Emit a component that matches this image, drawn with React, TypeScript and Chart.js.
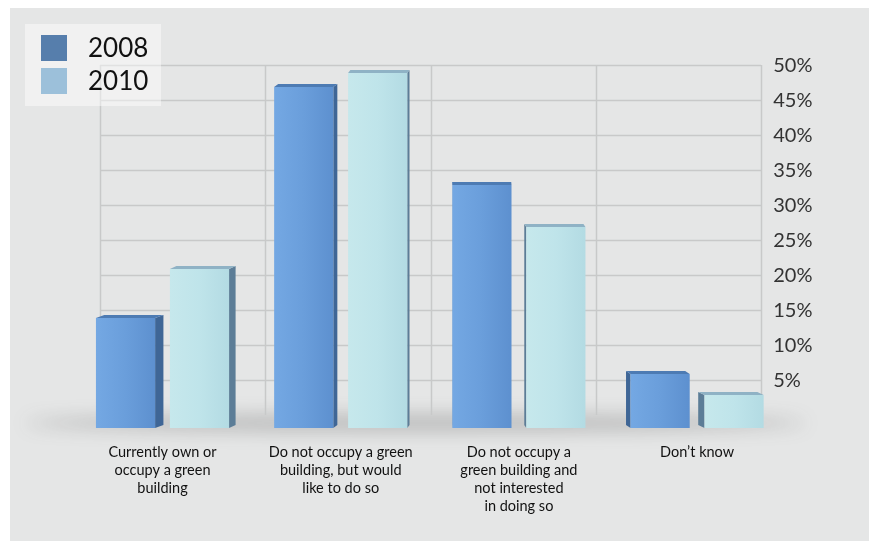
import { useEffect, useRef } from "react";
import { Chart, registerables } from "chart.js";

Chart.register(...registerables);

// Survey answers (percent of respondents)
const categories: string[][] = [
  ["Currently own or", "occupy a green", "building"],
  ["Do not occupy a green", "building, but would", "like to do so"],
  ["Do not occupy a", "green building and", "not interested", "in doing so"],
  ["Don\u2019t know"],
];
const seriesNames = ["2008", "2010"];
const values2008 = [14, 47, 33, 6];
const values2010 = [21, 49, 27, 3];
const yTickStep = 5;
const yMax = 50;

const FONT = "Lato, 'Open Sans', sans-serif";
const BG = "#e5e6e6";
const WALL_LINE = "#c8c9c9";

type Palette = { light: string; mid: string; dark: string; side: string; top: string; swatch: string };
const palettes: Palette[] = [
  { light: "#74a8e3", mid: "#6a9edb", dark: "#5d90cf", side: "#3f6696", top: "#4d7bb3", swatch: "#567eac" },
  { light: "#c6e8ec", mid: "#bfe4ea", dark: "#b3dbe3", side: "#5c7d97", top: "#8fb2c5", swatch: "#9cc0da" },
];

// back wall: grid drawn between the wall's own x positions (hidden "xg" axis)
const backWall = {
  id: "backWall",
  beforeDraw(chart: any) {
    const { ctx, width, height } = chart;
    ctx.save();
    ctx.fillStyle = BG;
    ctx.fillRect(0, 0, width, height);
    ctx.restore();
  },
  beforeDatasetsDraw(chart: any) {
    const { ctx } = chart;
    const xg = chart.scales.xg;
    const y = chart.scales.y;
    const left = xg.getPixelForValue(0);
    const right = xg.getPixelForValue(categories.length);
    const top = y.getPixelForValue(yMax);
    const bottom = y.getPixelForValue(0);

    // soft floor shadow under the bars
    ctx.save();
    ctx.filter = "blur(9px)";
    ctx.fillStyle = "rgba(60,60,60,0.27)";
    ctx.beginPath();
    ctx.ellipse((left + right) / 2 - 15, bottom + 8, (right - left) / 2 + 60, 8, 0, 0, Math.PI * 2);
    ctx.fill();
    ctx.restore();

    ctx.save();
    ctx.strokeStyle = WALL_LINE;
    ctx.lineWidth = 1.5;
    for (let v = yTickStep; v <= yMax; v += yTickStep) {
      const py = Math.round(y.getPixelForValue(v)) + 0.5;
      ctx.beginPath();
      ctx.moveTo(left, py);
      ctx.lineTo(right, py);
      ctx.stroke();
    }
    for (let i = 0; i <= categories.length; i++) {
      const px = Math.round(xg.getPixelForValue(i)) + 0.5;
      ctx.beginPath();
      ctx.moveTo(px, top);
      ctx.lineTo(px, bottom);
      ctx.stroke();
    }
    ctx.restore();

    // percentage labels beside the wall
    ctx.save();
    ctx.fillStyle = "#333";
    ctx.font = `20px ${FONT}`;
    ctx.textAlign = "left";
    ctx.textBaseline = "middle";
    y.ticks.forEach((t: any) => {
      if (t.value === 0) return;
      ctx.fillText(`${t.value}%`, y.left - 13, y.getPixelForValue(t.value) + 1);
    });
    ctx.restore();
  },
  afterDatasetsDraw(chart: any) {
    const { ctx } = chart;
    const xg = chart.scales.xg;
    const vanishX = xg.getPixelForValue(2.25);
    const rise = 3;
    const drop = 13;
    chart.data.datasets.forEach((_ds: any, di: number) => {
      const pal = palettes[di];
      chart.getDatasetMeta(di).data.forEach((el: any) => {
        const w = el.width;
        const x0 = el.x - w / 2;
        const x1 = el.x + w / 2;
        const top = el.y + 1;
        const bottom = el.base + drop;
        const depth = (vanishX - el.x) * 0.024;
        ctx.save();
        // side face
        const sx = depth >= 0 ? x1 : x0;
        ctx.fillStyle = pal.side;
        ctx.beginPath();
        ctx.moveTo(sx, top);
        ctx.lineTo(sx + depth, top - rise);
        ctx.lineTo(sx + depth, bottom - rise);
        ctx.lineTo(sx, bottom);
        ctx.closePath();
        ctx.fill();
        // top face
        ctx.fillStyle = pal.top;
        ctx.beginPath();
        ctx.moveTo(x0, top);
        ctx.lineTo(x1, top);
        ctx.lineTo(x1 + depth, top - rise);
        ctx.lineTo(x0 + depth, top - rise);
        ctx.closePath();
        ctx.fill();
        // front face
        const g = ctx.createLinearGradient(x0, 0, x1, 0);
        g.addColorStop(0, pal.light);
        g.addColorStop(0.5, pal.mid);
        g.addColorStop(1, pal.dark);
        ctx.fillStyle = g;
        ctx.fillRect(x0, top, w, bottom - top);
        ctx.restore();
      });
    });
  },
  afterDraw(chart: any) {
    const { ctx } = chart;
    ctx.save();
    ctx.fillStyle = "rgba(255,255,255,0.45)";
    ctx.fillRect(15, 16, 136, 82);
    chart.data.datasets.forEach((ds: any, i: number) => {
      const cy = 40 + i * 33;
      ctx.fillStyle = palettes[i].swatch;
      ctx.fillRect(31, cy - 13, 26, 26);
      ctx.fillStyle = "#111";
      ctx.font = `26px ${FONT}`;
      ctx.textBaseline = "middle";
      ctx.textAlign = "left";
      ctx.fillText(ds.label, 78, cy + 1);
    });
    ctx.restore();
  },
};

export default function App() {
  const ref = useRef<HTMLCanvasElement | null>(null);
  useEffect(() => {
    if (!ref.current) return;
    const chart = new Chart(ref.current, {
      type: "bar",
      data: {
        labels: categories,
        datasets: [
          { label: seriesNames[0], data: values2008, backgroundColor: "rgba(0,0,0,0)", borderWidth: 0 },
          { label: seriesNames[1], data: values2010, backgroundColor: "rgba(0,0,0,0)", borderWidth: 0 },
        ],
      },
      options: {
        responsive: false,
        animation: false,
        categoryPercentage: 0.83,
        barPercentage: 0.8,
        layout: { padding: { left: 63.4, top: 57, right: 0, bottom: 0 } },
        plugins: { legend: { display: false }, tooltip: { enabled: false } },
        scales: {
          x: {
            type: "category",
            offset: true,
            grid: { display: false, drawTicks: false },
            border: { display: false },
            ticks: {
              autoSkip: false,
              maxRotation: 0,
              padding: 28,
              color: "#111",
              font: { family: FONT, size: 14.5, lineHeight: "18px" },
            },
            afterFit: (s: any) => {
              s.height = 126;
            },
          },
          xg: {
            type: "linear",
            axis: "x",
            position: "bottom",
            display: false,
            offset: false,
            min: -0.161,
            max: 4.152,
            ticks: { stepSize: 1 },
          },
          y: {
            position: "right",
            min: 0,
            max: yMax,
            grid: { display: false, drawTicks: false },
            border: { display: false },
            ticks: { stepSize: yTickStep, display: false },
            afterFit: (s: any) => {
              s.width = 82.8;
            },
          },
        },
      } as any,
      plugins: [backWall],
    });
    return () => chart.destroy();
  }, []);
  return (
    <div style={{ position: "fixed", left: 10, top: 8 }}>
      <canvas ref={ref} width={859} height={533} style={{ display: "block" }} />
    </div>
  );
}
